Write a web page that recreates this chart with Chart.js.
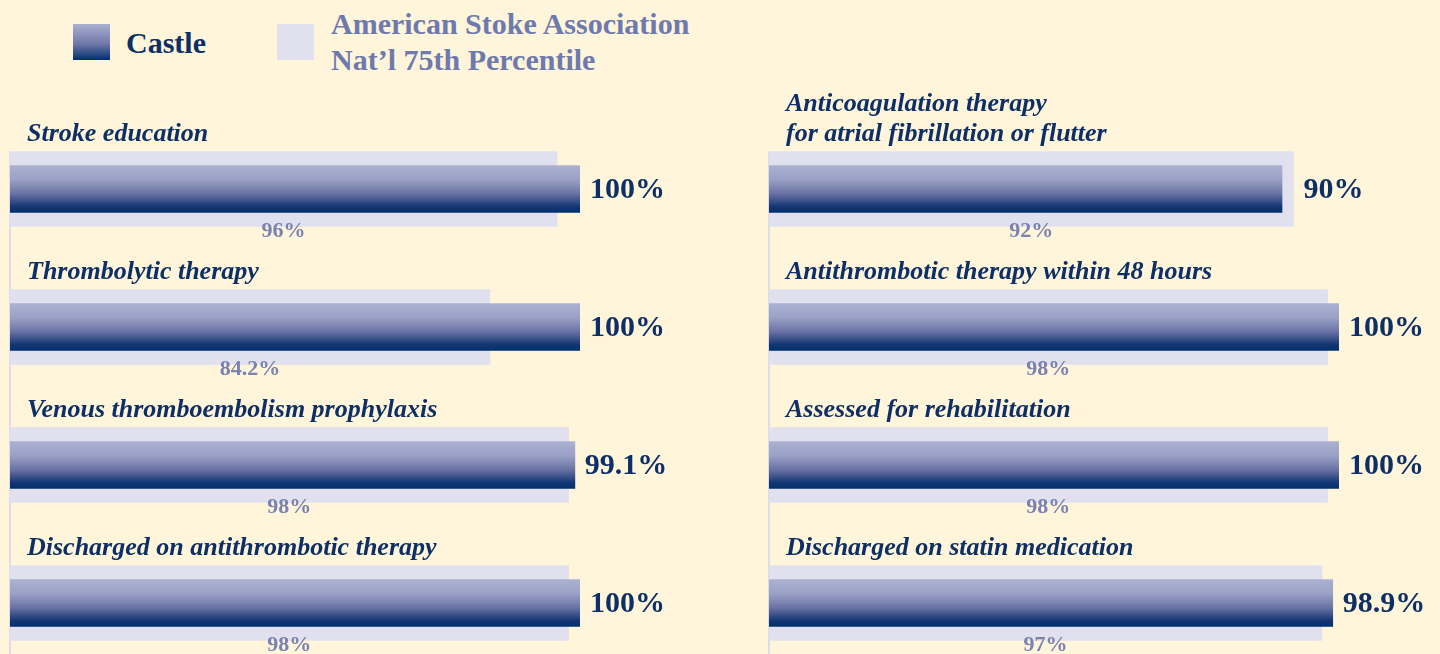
<!DOCTYPE html>
<html>
<head>
<meta charset="utf-8">
<script src="https://cdn.jsdelivr.net/npm/chart.js@4.4.1/dist/chart.umd.min.js"></script>
<style>
  html, body { margin:0; padding:0; width:1440px; height:654px; overflow:hidden; background:#fef5da; }
  body { position:relative; font-family:"Liberation Serif", serif; }
  .sw { position:absolute; width:37px; height:36px; }
  #sw1 { left:73px; top:24px; background:linear-gradient(#abb1d1, #7078a8 55%, #00306c); }
  #sw2 { left:277px; top:24px; background:#e0e0ee; }
  .lg { position:absolute; font-weight:bold; font-size:30px; line-height:36px; white-space:nowrap; }
  #lg1 { left:126px; top:25px; color:#0d2f66; }
  #lg2 { left:331px; top:6px; color:#6e7aae; }
  .wrap { position:absolute; top:70px; height:602px; }
  #w1 { left:0; width:720px; }
  #w2 { left:759px; width:681px; }
</style>
</head>
<body>
<div class="sw" id="sw1"></div><div class="lg" id="lg1">Castle</div>
<div class="sw" id="sw2"></div><div class="lg" id="lg2">American Stoke Association<br>Nat’l 75th Percentile</div>
<div class="wrap" id="w1"><canvas id="c1"></canvas></div>
<div class="wrap" id="w2"><canvas id="c2"></canvas></div>
<script>
const seriesNames = ['Castle', 'American Stoke Association Nat’l 75th Percentile'];
const leftCategories = ['Stroke education', 'Thrombolytic therapy', 'Venous thromboembolism prophylaxis', 'Discharged on antithrombotic therapy'];
const leftCastle = [100, 100, 99.1, 100];
const leftBench = [96, 84.2, 98, 98];
const rightCategories = [['Anticoagulation therapy', 'for atrial fibrillation or flutter'], 'Antithrombotic therapy within 48 hours', 'Assessed for rehabilitation', 'Discharged on statin medication'];
const rightCastle = [90, 100, 100, 98.9];
const rightBench = [92, 98, 98, 97];

const NAVY = '#0d2f66';
const CASTLE_T = 47, BENCH_T = 75;

function castleFill(ctx) {
  const chart = ctx.chart;
  if (!chart.chartArea || ctx.dataIndex === undefined) return '#6870a2';
  const yc = chart.scales.y.getPixelForValue(ctx.dataIndex);
  const g = chart.ctx.createLinearGradient(0, yc - CASTLE_T/2, 0, yc + CASTLE_T/2);
  g.addColorStop(0, '#abb1d1');
  g.addColorStop(0.3, '#9aa1c5');
  g.addColorStop(0.6, '#6a72a4');
  g.addColorStop(0.87, '#143774');
  g.addColorStop(1, '#00306c');
  return g;
}

const labelPlugin = {
  id: 'labels',
  beforeDatasetsDraw(chart) {
    const c = chart.ctx, ys = chart.scales.y, a = chart.chartArea;
    const top = ys.getPixelForValue(0) - BENCH_T/2;
    c.save();
    c.strokeStyle = '#dcdcea'; c.lineWidth = 2;
    c.beginPath(); c.moveTo(a.left, top); c.lineTo(a.left, a.bottom); c.stroke();
    c.restore();
  },
  afterDatasetsDraw(chart) {
    const c = chart.ctx, xs = chart.scales.x, ys = chart.scales.y, a = chart.chartArea;
    const cats = chart.data.labels;
    const castle = chart.data.datasets[0].data, bench = chart.data.datasets[1].data;
    c.save();
    cats.forEach((cat, i) => {
      const yc = ys.getPixelForValue(i);
      c.font = 'italic bold 26px "Liberation Serif"';
      c.fillStyle = NAVY; c.textAlign = 'left'; c.textBaseline = 'middle';
      const lines = Array.isArray(cat) ? cat : [cat];
      lines.forEach((ln, k) => {
        c.fillText(ln, a.left + 17, yc - 55 - (lines.length - 1 - k) * 30);
      });
      const xEnd = xs.getPixelForValue(Math.max(castle[i], bench[i]));
      c.font = 'bold 30px "Liberation Serif"';
      c.fillStyle = NAVY;
      c.fillText(castle[i] + '%', xEnd + 10, yc + 1);
      const xMid = (a.left + xs.getPixelForValue(bench[i])) / 2;
      c.font = 'bold 22px "Liberation Serif"';
      c.fillStyle = '#7a82b2'; c.textAlign = 'center';
      c.fillText(bench[i] + '%', xMid, yc + 42);
    });
    c.restore();
  }
};

function makeChart(id, cats, castle, bench, padRight) {
  return new Chart(document.getElementById(id), {
    type: 'bar',
    data: {
      labels: cats,
      datasets: [
        { label: seriesNames[0], data: castle, backgroundColor: castleFill, barThickness: CASTLE_T, grouped: false, order: 0, borderWidth: 0 },
        { label: seriesNames[1], data: bench, backgroundColor: '#e0e0ee', barThickness: BENCH_T, grouped: false, order: 1, borderWidth: 0 }
      ]
    },
    options: {
      indexAxis: 'y',
      responsive: true,
      maintainAspectRatio: false,
      animation: false,
      layout: { padding: { left: 10, right: padRight, top: 50, bottom: 0 } },
      scales: {
        x: { display: false, min: 0, max: 100 },
        y: { display: false, offset: true }
      },
      plugins: { legend: { display: false }, tooltip: { enabled: false } }
    },
    plugins: [labelPlugin]
  });
}

makeChart('c1', leftCategories, leftCastle, leftBench, 140);
makeChart('c2', rightCategories, rightCastle, rightBench, 101);
</script>
</body>
</html>
